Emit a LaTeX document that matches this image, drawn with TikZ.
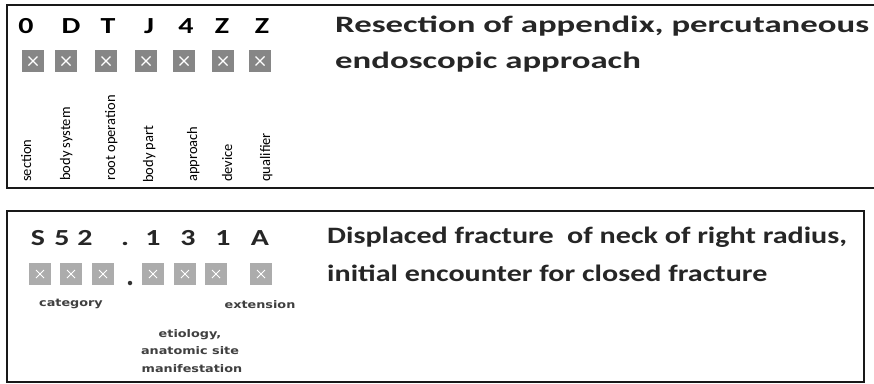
\documentclass[tikz,border=0pt]{standalone}
\usepackage{fontspec}
\setmainfont{Carlito}
\newfontfamily\descfont[FakeStretch=1.48]{Carlito}
\newfontfamily\bdescfont[FakeStretch=1.28]{Carlito}
\newfontfamily\codefont[FakeStretch=1.3]{Carlito}
\newfontfamily\lblfont[FakeStretch=1.22]{DejaVu Sans}
\begin{document}
\begin{tikzpicture}[x=1pt,y=-1pt,
  frame/.style={line width=2.6pt, draw=black!90},
  codechar/.style={font=\codefont\fontsize{23}{23}\selectfont\bfseries, inner sep=0pt, anchor=base},
  desc/.style={font=\descfont\fontsize{23.5}{23.5}\selectfont\bfseries, inner sep=0pt, anchor=base west, text=black!85},
  bdesc/.style={font=\bdescfont\fontsize{23.5}{23.5}\selectfont\bfseries, inner sep=0pt, anchor=base west, text=black!85},
  slot/.style={fill=#1, draw=none, minimum width=22pt, minimum height=22pt, inner sep=0pt},
  slot/.default={gray!95},
  vlabel/.style={font=\fontsize{14.5}{14.5}\selectfont, rotate=90, inner sep=0pt, anchor=base west},
  hlabel/.style={font=\lblfont\bfseries\fontsize{10.5}{10.5}\selectfont, inner sep=0pt, anchor=base, text=black!75}
]
\useasboundingbox (0,0) rectangle (874,383);
\fill[white] (0,0) rectangle (874,383);

% ---------- top panel ----------
\draw[frame] (874,5) -- (7,5) -- (7,188) -- (874,188);

\foreach \c/\x [count=\i] in {0/26,D/71,T/108,J/149,4/186,Z/222,Z/262}{
  \node[codechar] (tc\i) at (\x,33) {\c};
}
\foreach \x [count=\i] in {33,66,106,146,184,223,260}{
  \node[slot] (ts\i) at (\x,61) {};
  \draw[white, line width=1.1pt] ([shift={(-4.5,-4.5)}]ts\i.center) -- ([shift={(4.5,4.5)}]ts\i.center)
                                 ([shift={(-4.5,4.5)}]ts\i.center) -- ([shift={(4.5,-4.5)}]ts\i.center);
}
\node[vlabel] (l1) at (31,182) {section};
\node[vlabel] (l2) at (70,181) {body system};
\node[vlabel] (l3) at (115,181) {root operation};
\node[vlabel] (l4) at (153,183) {body part};
\node[vlabel] (l5) at (197,182) {approach};
\node[vlabel] (l6) at (232,182) {device};
\node[vlabel] (l7) at (270,182) {qualifier};

\node[desc] (d1) at (335,32) {Resection of appendix, percutaneous};
\node[desc] (d2) at (335,68) {endoscopic approach};

% ---------- bottom panel ----------
\draw[frame] (7,211) rectangle (864,382);

\foreach \c/\x [count=\i] in {S/38,5/62,2/85,./125,1/153,3/188,1/223,A/260}{
  \node[codechar, text=black!85] (bc\i) at (\x,245) {\c};
}
\foreach \x [count=\i] in {40,71,103,153,185,216,261}{
  \node[slot=gray!65] (bs\i) at (\x,274) {};
  \draw[white, line width=1pt] ([shift={(-4,-4)}]bs\i.center) -- ([shift={(4,4)}]bs\i.center)
                               ([shift={(-4,4)}]bs\i.center) -- ([shift={(4,-4)}]bs\i.center);
}
\node[circle, fill=black!80, inner sep=0pt, minimum size=4.5pt] (dot) at (130,283) {};

\node[hlabel] (c1) at (71,306) {category};
\node[hlabel] (c2) at (260,308) {extension};
\node[hlabel] (c3) at (190,337) {etiology,};
\node[hlabel] (c4) at (190,354) {anatomic site};
\node[hlabel] (c5) at (192,372) {manifestation};

\node[bdesc] (d3) at (327,243) {Displaced fracture\ \ of neck of right radius,};
\node[bdesc] (d4) at (327,281) {initial encounter for closed fracture};
\end{tikzpicture}
\end{document}
